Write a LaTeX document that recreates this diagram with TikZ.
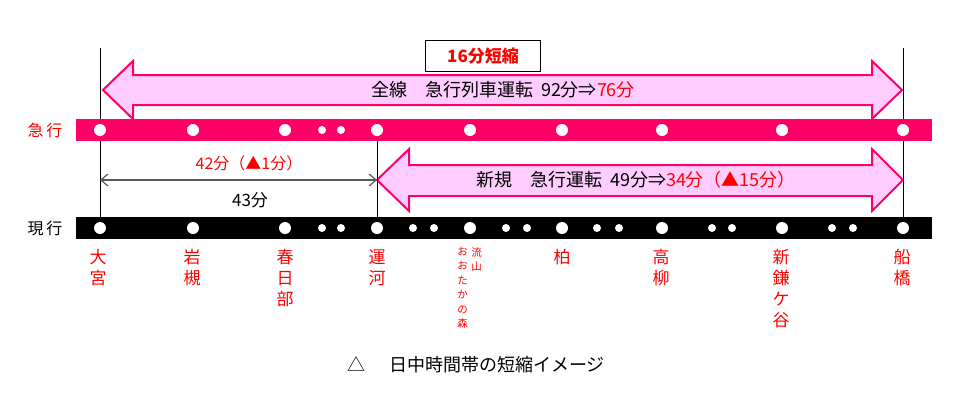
\documentclass[tikz,border=0pt]{standalone}
\usepackage{fontspec}
\setmainfont{Noto Sans CJK JP}
\usetikzlibrary{arrows.meta}
\definecolor{kyukopink}{HTML}{FF0066}
\definecolor{arrowpink}{HTML}{FFCCFF}
\definecolor{ekired}{HTML}{FF0000}
\definecolor{dimgray}{HTML}{595959}
\tikzset{
	bigarrow/.style={draw=kyukopink, fill=arrowpink, line width=2pt, line join=miter},
	ekimei/.style={anchor=north, inner sep=0pt, align=center, text=ekired, font=\fontsize{17}{21}\selectfont},
	ekismall/.style={anchor=north, inner sep=0pt, align=center, text=ekired, font=\fontsize{10.5}{14.4}\selectfont},
	txt/.style={inner sep=0pt, font=\fontsize{17}{20}\selectfont},
	bigtxt/.style={inner sep=0pt, font=\fontsize{18}{20}\selectfont},
	pole/.style={line width=0.8pt},
	bigdot/.style={fill=white},
}

\begin{document}
\begin{tikzpicture}[x=1pt, y=-1pt]
		\useasboundingbox (0,0) rectangle (978,400);
		%%%%% START %%%%%
		
		\draw[bigarrow] (103,90) -- (133,61) -- (133,75) -- (872,75) -- (872,61) -- (902,90) -- (872,119) -- (872,105) -- (133,105) -- (133,119) -- cycle;
		\node[bigtxt] (zensen) at (503,90) {全線　急行列車運転\hspace{8pt}92分⇒\textcolor{ekired}{76分}};
		\node[draw, line width=0.8pt, minimum width=115pt, minimum height=31pt, inner sep=0pt, text=ekired, font=\fontsize{17}{20}\selectfont\bfseries] (tanshuku) at (483,56) {16分短縮};
		
		\draw[bigarrow] (377,180) -- (409,149) -- (409,165) -- (872,165) -- (872,149) -- (903,180) -- (872,211) -- (872,196) -- (409,196) -- (409,211) -- cycle;
		\node[bigtxt] (shinki) at (636,180) {新規　急行運転\hspace{8pt}49分⇒\textcolor{ekired}{34分（▲15分）}};
		
		\fill[kyukopink] (76,119) rectangle (932,141);
		\fill[black] (76,217) rectangle (932,239);
		
		\node[txt, text=ekired, font=\fontsize{16}{20}\selectfont] (kyuko) at (45,130) {急\hspace{3pt}行};
		\node[txt, font=\fontsize{16}{20}\selectfont] (genko) at (45,228) {現\hspace{3pt}行};
		
		\fill[bigdot] (100,130) circle (6pt) (193,130) circle (6pt) (285,130) circle (6pt) (377,130) circle (6pt) (470,130) circle (6pt) (562,130) circle (6pt) (662,130) circle (6pt) (782,130) circle (6pt) (903,130) circle (6pt);
		\fill[bigdot] (322,130) circle (4pt) (341,130) circle (4pt);
		\fill[bigdot] (100,228) circle (6pt) (193,228) circle (6pt) (285,228) circle (6pt) (377,228) circle (6pt) (470,228) circle (6pt) (562,228) circle (6pt) (662,228) circle (6pt) (782,228) circle (6pt) (903,228) circle (6pt);
		\fill[bigdot] (322,228) circle (4pt) (341,228) circle (4pt) (413,228) circle (4pt) (434,228) circle (4pt) (506,228) circle (4pt) (527,228) circle (4pt) (597,228) circle (4pt) (619,228) circle (4pt) (712,228) circle (4pt) (732,228) circle (4pt) (832,228) circle (4pt) (853,228) circle (4pt);
		
		\draw[pole] (100,48) -- (100,119);
		\draw[pole] (100,141) -- (100,217);
		\draw[pole] (903,48) -- (903,119);
		\draw[pole] (903,141) -- (903,217);
		\draw[pole] (377,141) -- (377,217);
		
		\coordinate (omiyaL) at (100,180);
		\coordinate (ungaR) at (377,180);
		\draw[dimgray, line width=1.2pt, {Straight Barb[length=7pt,width=12pt]}-{Straight Barb[length=7pt,width=12pt]}] (omiyaL) -- (ungaR);
		\node[txt, text=ekired, font=\fontsize{16}{20}\selectfont] (kyuko42) at (249,163) {42分（▲1分）};
		\node[txt] (genko43) at (250,200) {43分};
		
		\node[ekimei] (omiya) at (98,249) {大\\宮};
		\node[ekimei] (iwatsuki) at (192,249) {岩\\槻};
		\node[ekimei] (kasukabe) at (285,249) {春\\日\\部};
		\node[ekimei] (unga) at (377,249) {運\\河};
		\node[ekismall] (nagareyama) at (476.5,247) {流\\山};
		\node[ekismall] (otaka) at (462.5,247) {お\\お\\た\\か\\の\\森};
		\node[ekimei] (kashiwa) at (562,249) {柏};
		\node[ekimei] (takayanagi) at (661,249) {高\\柳};
		\node[ekimei] (shinkama) at (781,249) {新\\鎌\\ケ\\谷};
		\node[ekimei] (funabashi) at (902,249) {船\\橋};
		
		\node[bigtxt, anchor=west] (caption) at (347,365) {△\hspace{24pt}日中時間帯の短縮イメージ};
		
		%%%%% END %%%%%
	\end{tikzpicture}
\end{document}
